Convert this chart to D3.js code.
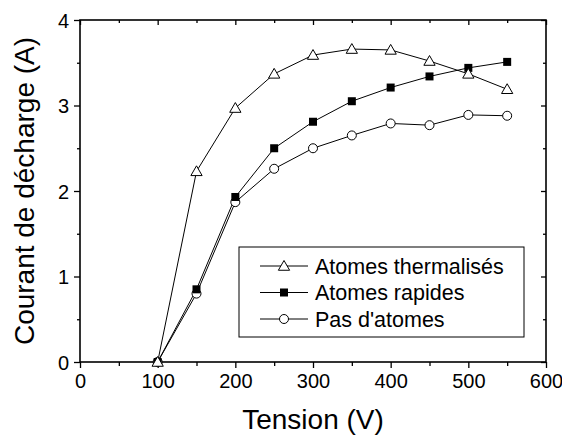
<!DOCTYPE html>
<html><head><meta charset="utf-8">
<script src="https://cdn.jsdelivr.net/npm/d3@7"></script>
<style>body{margin:0;background:#fff}svg{display:block}text{font-family:"Liberation Sans",Arial,sans-serif;fill:#000}</style>
</head><body><svg id="c" width="562" height="438"></svg>
<script>
const tension = [100,150,200,250,300,350,400,450,500,550];
const thermalises = [0,2.23,2.97,3.37,3.59,3.66,3.65,3.52,3.37,3.19];
const rapides = [0,0.85,1.93,2.50,2.81,3.05,3.21,3.34,3.44,3.51];
const sansAtomes = [0,0.80,1.87,2.26,2.50,2.65,2.79,2.77,2.89,2.88];
const seriesNames = ["Atomes thermalisés","Atomes rapides","Pas d'atomes"];
const xTicks = [0,100,200,300,400,500,600];
const yTicks = [0,1,2,3,4];

const svg = d3.select("#c");
const L=80,R=546,T=20,B=362;
const x = d3.scaleLinear().domain([0,600]).range([L,R]);
const y = d3.scaleLinear().domain([0,4]).range([B,T]);

const xMinor = d3.range(50,600,100), yMinor=[0.5,1.5,2.5,3.5];
const bx = svg.append("g").attr("transform",`translate(0,${B})`)
  .call(d3.axisBottom(x).tickValues(xTicks).tickSize(6).tickPadding(6).tickFormat(d3.format("d")));
const bxm = svg.append("g").attr("transform",`translate(0,${B})`)
  .call(d3.axisBottom(x).tickValues(xMinor).tickSize(4).tickFormat(""));
const tx = svg.append("g").attr("transform",`translate(0,${T})`)
  .call(d3.axisBottom(x).tickValues(xTicks).tickSize(5).tickFormat(""));
const txm = svg.append("g").attr("transform",`translate(0,${T})`)
  .call(d3.axisBottom(x).tickValues(xMinor).tickSize(3).tickFormat(""));
const ly = svg.append("g").attr("transform",`translate(${L},0)`)
  .call(d3.axisLeft(y).tickValues(yTicks).tickSize(6).tickPadding(5).tickFormat(d3.format("d")));
const lym = svg.append("g").attr("transform",`translate(${L},0)`)
  .call(d3.axisLeft(y).tickValues(yMinor).tickSize(3).tickFormat(""));
const ry = svg.append("g").attr("transform",`translate(${R},0)`)
  .call(d3.axisLeft(y).tickValues(yTicks).tickSize(5).tickFormat(""));
const rym = svg.append("g").attr("transform",`translate(${R},0)`)
  .call(d3.axisLeft(y).tickValues(yMinor).tickSize(3).tickFormat(""));
[bx,bxm,tx,txm,ly,lym,ry,rym].forEach(a=>{
  a.select(".domain").remove();
  a.selectAll("line").attr("stroke","#000").attr("stroke-width",1.3);
  a.selectAll("text").style("font-size","20px").style("font-family","'Liberation Sans',Arial,sans-serif").attr("fill","#000");
});
ly.selectAll("text").attr("dy","0.36em");
bx.selectAll("text").attr("dy","0.72em");
svg.append("rect").attr("x",L).attr("y",T).attr("width",R-L).attr("height",B-T)
  .attr("fill","none").attr("stroke","#000").attr("stroke-width",1.6);

const data = [thermalises,rapides,sansAtomes];
const line = d3.line().x((d,i)=>x(tension[i])).y(d=>y(d));
const tri = d3.symbol().type(d3.symbolTriangle).size(55);
function marker(sel,k){
  if(k===0) sel.append("path").attr("d",tri).attr("transform","translate(0,1)").attr("fill","#fff").attr("stroke","#000").attr("stroke-width",1);
  else if(k===1) sel.append("rect").attr("x",-4).attr("y",-4).attr("width",8).attr("height",8).attr("fill","#000");
  else sel.append("circle").attr("r",4.5).attr("fill","#fff").attr("stroke","#000").attr("stroke-width",1);
}
data.forEach((vals,k)=>{
  svg.append("path").datum(vals).attr("d",line).attr("fill","none").attr("stroke","#000").attr("stroke-width",1);
});
[2,1,0].forEach(k=>{
  data[k].forEach((v,i)=>{
    const m = svg.append("g").attr("transform",`translate(${x(tension[i])},${y(v)})`);
    marker(m,k);
  });
});

const lg = svg.append("g");
lg.append("rect").attr("x",239).attr("y",247).attr("width",285).attr("height",90)
  .attr("fill","#fff").attr("stroke","#000").attr("stroke-width",1);
seriesNames.forEach((n,k)=>{
  const yy = 266 + k*26.5;
  lg.append("line").attr("x1",260).attr("x2",308).attr("y1",yy).attr("y2",yy).attr("stroke","#000").attr("stroke-width",1);
  marker(lg.append("g").attr("transform",`translate(284,${yy})`),k);
  lg.append("text").attr("x",315).attr("y",yy).attr("dy","0.36em").style("font-size","21.5px").text(n);
});

svg.append("text").attr("x",(L+R)/2).attr("y",429).attr("text-anchor","middle").style("font-size","28px").text("Tension (V)");
svg.append("text").attr("transform",`translate(34,${(T+B)/2}) rotate(-90)`).attr("text-anchor","middle").style("font-size","28px").text("Courant de décharge (A)");
</script></body></html>
